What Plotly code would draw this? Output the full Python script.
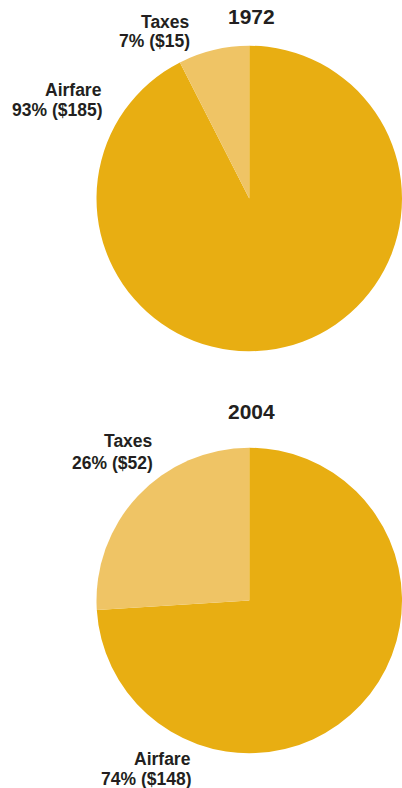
import plotly.graph_objects as go

# Ticket cost breakdown, in dollars, for a $200 ticket
categories = ["Airfare", "Taxes"]
values_1972 = [185, 15]
values_2004 = [148, 52]
pct_1972 = [93, 7]
pct_2004 = [74, 26]
years = ["1972", "2004"]

colors = ["#E8AE12", "#EFC465"]
W, H = 402, 788
TEXT = "#231F20"
FONT = "Liberation Sans, Arial, sans-serif"


def px(x):
    return x / W


def py(y):
    return 1 - y / H


fig = go.Figure()

# Airfare runs clockwise from 12 o'clock, so Taxes sits just left of the top
pie_specs = [
    (values_1972, 198.5),
    (values_2004, 600.5),
]
for vals, cy in pie_specs:
    r = 153.5
    fig.add_trace(go.Pie(
        labels=categories,
        values=vals,
        sort=False,
        direction="clockwise",
        rotation=0,
        marker=dict(colors=colors, line=dict(width=0)),
        textinfo="none",
        hoverinfo="label+value+percent",
        showlegend=False,
        domain=dict(x=[px(250 - r), 1.0], y=[py(cy + r), py(cy - r)]),
    ))

annotations = [
    dict(text=f"<b>{years[0]}</b>", x=px(251), y=py(17), font=dict(size=21)),
    dict(text=f"<b>{years[1]}</b>", x=px(251), y=py(411), font=dict(size=21)),
]

# (category index, pct list, value list, right edge x, first-line y, second-line y)
label_specs = [
    (1, pct_1972, values_1972, 192, 21.5, 41.5),
    (0, pct_1972, values_1972, 104, 90.5, 109.5),
    (1, pct_2004, values_2004, 155, 441.5, 462.5),
    (0, pct_2004, values_2004, 193, 759, 779),
]
for i, pcts, vals, xr, y1, y2 in label_specs:
    annotations.append(dict(text=f"<b>{categories[i]}</b>", x=px(xr), y=py(y1),
                            xanchor="right", font=dict(size=17.5)))
    annotations.append(dict(text=f"<b>{pcts[i]}% (${vals[i]})</b>", x=px(xr), y=py(y2),
                            xanchor="right", font=dict(size=17.5)))

for a in annotations:
    a["font"]["color"] = TEXT
    a["font"]["family"] = FONT
    a.update(xref="paper", yref="paper", showarrow=False, yanchor="middle")
    a.setdefault("xanchor", "center")

fig.update_layout(
    width=W,
    height=H,
    margin=dict(l=0, r=0, t=0, b=0),
    paper_bgcolor="white",
    plot_bgcolor="white",
    annotations=annotations,
    font=dict(family=FONT, color=TEXT),
)

fig.write_html("out.html", config={"displayModeBar": False})
